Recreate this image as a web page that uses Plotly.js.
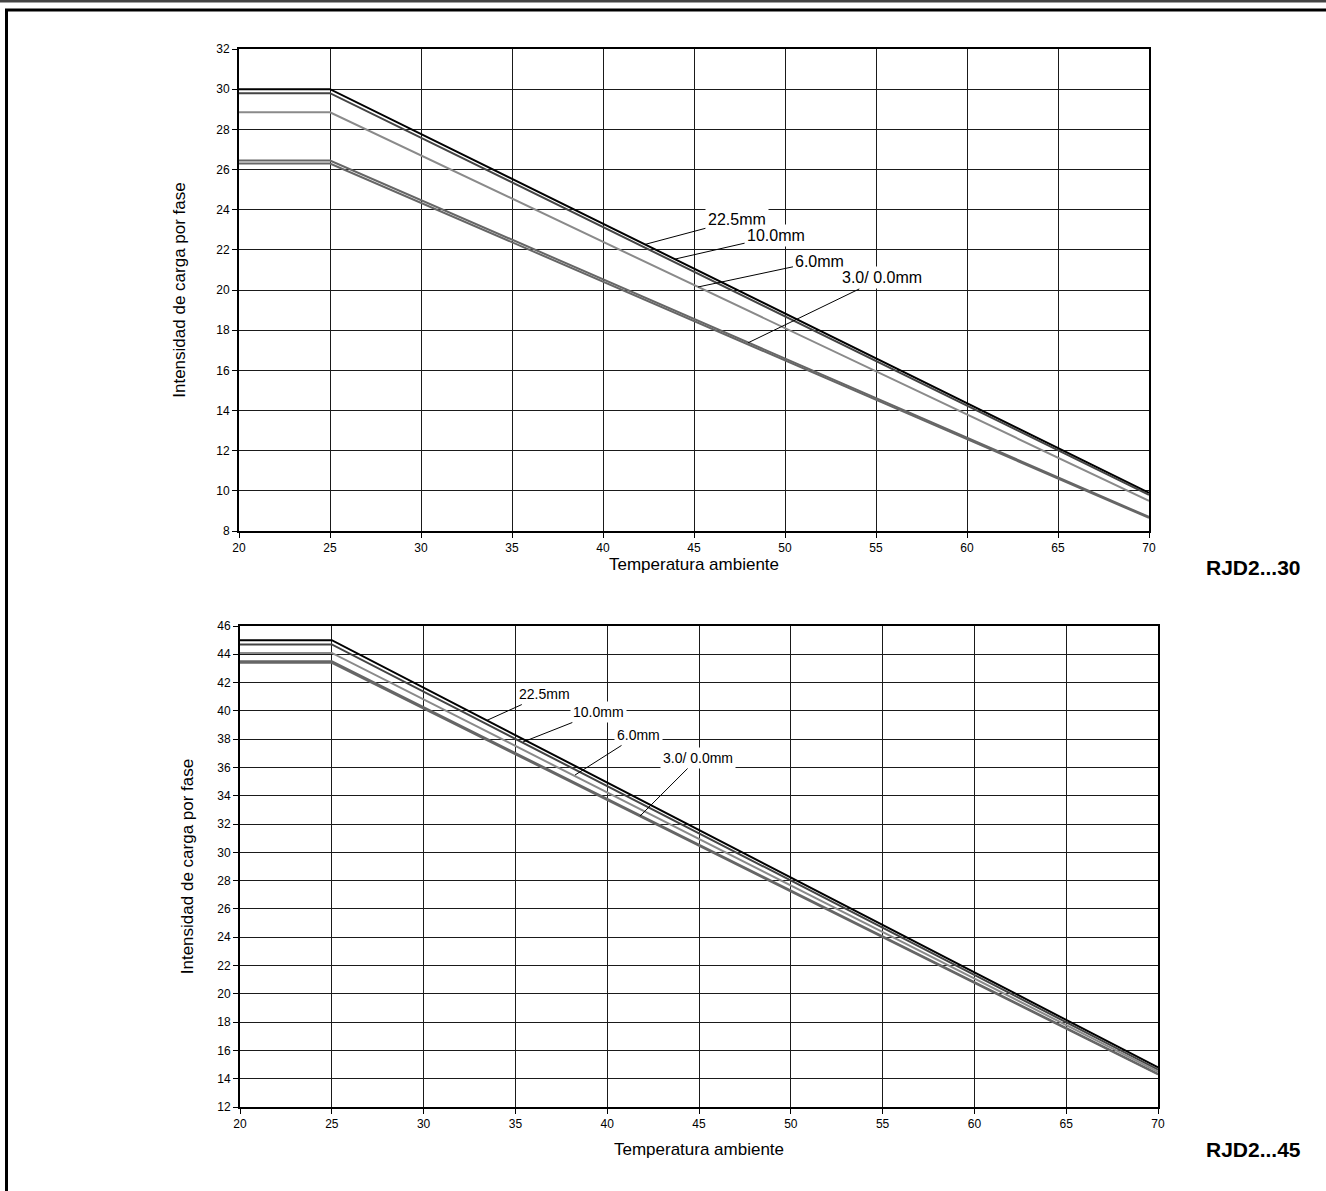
<!DOCTYPE html>
<html>
<head>
<meta charset="utf-8">
<script src="https://cdn.plot.ly/plotly-3.0.1.min.js"></script>
<style>html,body{margin:0;padding:0;background:#fff;}#chart{width:1326px;height:1191px;}</style>
</head>
<body>
<div id="chart"></div>
<script>
// ---- Data ----
const temps = [20, 25, 70];
const seriesNames = ["22.5mm", "10.0mm", "6.0mm", "3.0mm", "0.0mm"];
// RJD2...30
const top225 = [30.0, 30.0, 9.9];
const top100 = [29.8, 29.8, 9.8];
const top60  = [28.85, 28.85, 9.5];
const top30  = [26.45, 26.45, 8.7];
const top00  = [26.3, 26.3, 8.65];
// RJD2...45
const bot225 = [45.0, 45.0, 14.8];
const bot100 = [44.7, 44.7, 14.65];
const bot60  = [44.1, 44.1, 14.5];
const bot30  = [43.5, 43.5, 14.35];
const bot00  = [43.4, 43.4, 14.3];
const labelTexts = ["22.5mm", "10.0mm", "6.0mm", "3.0/ 0.0mm"];
const xTitle = "Temperatura ambiente";
const yTitle = "Intensidad de carga por fase";
const chartNames = ["RJD2...30", "RJD2...45"];

const colors = ["#000000", "#444444", "#8a8a8a", "#666666", "#666666"];
const FONT = "Liberation Sans, Arial, Helvetica, sans-serif";

const traces = [];
[top225, top100, top60, top30, top00].forEach((ys, i) => {
  traces.push({x: temps, y: ys, xaxis: "x", yaxis: "y", mode: "lines", name: seriesNames[i],
    line: {color: colors[i], width: 2}, showlegend: false});
});
[bot225, bot100, bot60, bot30, bot00].forEach((ys, i) => {
  traces.push({x: temps, y: ys, xaxis: "x2", yaxis: "y2", mode: "lines", name: seriesNames[i],
    line: {color: colors[i], width: 2}, showlegend: false});
});

function axisCommon() {
  return {
    showgrid: true, gridcolor: "#1a1a1a", gridwidth: 1,
    showline: true, linecolor: "#000", linewidth: 2, mirror: true,
    ticks: "outside", ticklen: 5, tickcolor: "#000", tickwidth: 1,
    tickfont: {family: FONT, size: 12, color: "#000"},
    zeroline: false, fixedrange: true
  };
}
const W = 1326, H = 1191;
const TF = {family: FONT, size: 17, color: "#000"};
const layout = {
  width: W, height: H,
  margin: {l: 0, r: 0, t: 0, b: 0},
  paper_bgcolor: "#fff", plot_bgcolor: "#fff",
  font: {family: FONT, color: "#000"},
  xaxis: Object.assign(axisCommon(), {domain: [239/W, 1149/W], range: [20, 70], dtick: 5, tick0: 20, anchor: "y",
    title: {text: xTitle, font: TF, standoff: 2}}),
  yaxis: Object.assign(axisCommon(), {domain: [1-531/H, 1-49/H], range: [8, 32], dtick: 2, tick0: 8, anchor: "x",
    title: {text: yTitle, font: TF, standoff: 26}}),
  xaxis2: Object.assign(axisCommon(), {domain: [240/W, 1158/W], range: [20, 70], dtick: 5, tick0: 20, anchor: "y2",
    title: {text: xTitle, font: TF, standoff: 13}}),
  yaxis2: Object.assign(axisCommon(), {domain: [1-1107/H, 1-626/H], range: [12, 46], dtick: 2, tick0: 12, anchor: "x2",
    title: {text: yTitle, font: TF, standoff: 19}}),
  shapes: [
    {type: "line", xref: "paper", yref: "paper", x0: 0, x1: 1, y0: 1-1/H, y1: 1-1/H, line: {color: "#444", width: 3}},
    {type: "line", xref: "paper", yref: "paper", x0: 5/W, x1: 1, y0: 1-10/H, y1: 1-10/H, line: {color: "#000", width: 3}},
    {type: "line", xref: "paper", yref: "paper", x0: 6.5/W, x1: 6.5/W, y0: 0, y1: 1-9/H, line: {color: "#000", width: 3}}
  ],
  annotations: []
};

// leader labels: [head x, head y, tail x, tail y]
const topLabels = [[42.31, 22.27, 47.36, 23.49], [43.96, 21.54, 49.51, 22.69], [45.22, 20.15, 51.92, 21.44], [47.97, 17.37, 55.33, 20.60]];
const botLabels = [[33.45, 39.33, 36.61, 41.19], [35.41, 37.80, 39.55, 39.92], [38.25, 35.47, 41.68, 38.30], [41.79, 32.57, 44.95, 36.67]];
function addLabels(arr, xr, yr, size) {
  arr.forEach((p, i) => {
    layout.annotations.push({
      x: p[0], y: p[1], ax: p[2], ay: p[3], xref: xr, yref: yr, axref: xr, ayref: yr,
      text: labelTexts[i], showarrow: true, arrowhead: 0, arrowwidth: 1, arrowcolor: "#000",
      font: {family: FONT, size: size, color: "#000"}, bgcolor: "#fff", borderpad: 2
    });
  });
}
addLabels(topLabels, "x", "y", 16);
addLabels(botLabels, "x2", "y2", 14);

layout.annotations.push({xref: "paper", yref: "paper", x: 1253/W, y: 1-567/H, text: "<b>" + chartNames[0] + "</b>",
  showarrow: false, xanchor: "center", yanchor: "middle", font: {family: FONT, size: 21, color: "#000"}});
layout.annotations.push({xref: "paper", yref: "paper", x: 1253/W, y: 1-1149/H, text: "<b>" + chartNames[1] + "</b>",
  showarrow: false, xanchor: "center", yanchor: "middle", font: {family: FONT, size: 21, color: "#000"}});

Plotly.newPlot("chart", traces, layout, {staticPlot: true, displayModeBar: false});
</script>
</body>
</html>
